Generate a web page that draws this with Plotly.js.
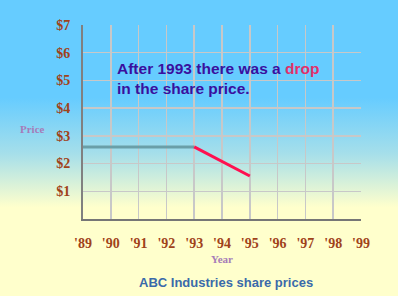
<!DOCTYPE html>
<html>
<head>
<meta charset="utf-8">
<script src="https://cdn.plot.ly/plotly-3.0.1.min.js"></script>
<style>
html,body{margin:0;padding:0;}
body{width:398px;height:296px;background:linear-gradient(to bottom,#66ccff 0%,#66ccff 33%,#a6dfea 52%,#ffffcc 70%,#ffffcc 100%);}
#chart{width:398px;height:296px;}
</style>
</head>
<body>
<div id="chart"></div>
<script>
var years = [1989, 1990, 1991, 1992, 1993, 1994, 1995, 1996, 1997, 1998, 1999];
var yearLabels = ["'89", "'90", "'91", "'92", "'93", "'94", "'95", "'96", "'97", "'98", "'99"];
var priceTicks = [1, 2, 3, 4, 5, 6, 7];
var priceLabels = ["$1", "$2", "$3", "$4", "$5", "$6", "$7"];
var flatYears = [1989, 1993];
var flatPrices = [2.6, 2.6];
var dropYears = [1993, 1995];
var dropPrices = [2.6, 1.55];

var traces = [
  {x: flatYears, y: flatPrices, mode: 'lines', line: {color: '#6a9fa8', width: 3}, hoverinfo: 'skip'},
  {x: dropYears, y: dropPrices, mode: 'lines', line: {color: '#ff1050', width: 3}, hoverinfo: 'skip'}
];

var tickFont = {family: 'Liberation Serif, Times New Roman, serif', size: 14, color: '#a0421a', weight: 'bold'};

var layout = {
  width: 398, height: 296,
  margin: {l: 83, r: 37, t: 25, b: 77},
  paper_bgcolor: 'rgba(0,0,0,0)',
  plot_bgcolor: 'rgba(0,0,0,0)',
  showlegend: false,
  title: {
    text: 'ABC Industries share prices',
    font: {family: 'Liberation Sans, Arial, sans-serif', size: 13, color: '#3a6aaa', weight: 'bold'},
    xref: 'container', x: 0.568, xanchor: 'center',
    yref: 'container', y: 0.047, yanchor: 'middle'
  },
  xaxis: {
    range: [1989, 1999], tickvals: years, ticktext: yearLabels,
    showgrid: true, gridcolor: '#c8c8c8', gridwidth: 1.5,
    showline: true, linecolor: '#767676', linewidth: 2,
    zeroline: false, ticks: 'outside', ticklen: 10, tickcolor: 'rgba(0,0,0,0)',
    tickfont: tickFont, fixedrange: true
  },
  yaxis: {
    range: [0, 7], tickvals: priceTicks, ticktext: priceLabels,
    showgrid: true, gridcolor: '#c8c8c8', gridwidth: 1.5,
    showline: true, linecolor: '#808080', linewidth: 2,
    zeroline: false, ticks: 'outside', ticklen: 8, tickcolor: 'rgba(0,0,0,0)',
    tickfont: tickFont, fixedrange: true
  },
  annotations: [
    {
      xref: 'paper', yref: 'paper', x: 0.116, y: 0.722, xanchor: 'left', yanchor: 'middle', align: 'left',
      text: "After 1993 there was a <span style='color:#e0306a'>drop</span><br>in the share price.",
      showarrow: false,
      font: {family: 'Liberation Sans, Arial, sans-serif', size: 15.5, color: '#3a109e', weight: 'bold'}
    },
    {
      xref: 'paper', yref: 'paper', x: -0.18, y: (219 - 129) / 194, xanchor: 'center', yanchor: 'middle',
      text: 'Price', showarrow: false,
      font: {family: 'Liberation Serif, Times New Roman, serif', size: 11, color: '#a67cb8', weight: 'bold'}
    },
    {
      xref: 'paper', yref: 'paper', x: 0.5, y: (219 - 259) / 194, xanchor: 'center', yanchor: 'middle',
      text: 'Year', showarrow: false,
      font: {family: 'Liberation Serif, Times New Roman, serif', size: 11, color: '#a67cb8', weight: 'bold'}
    }
  ]
};

Plotly.newPlot('chart', traces, layout, {displayModeBar: false, staticPlot: true});
</script>
</body>
</html>
